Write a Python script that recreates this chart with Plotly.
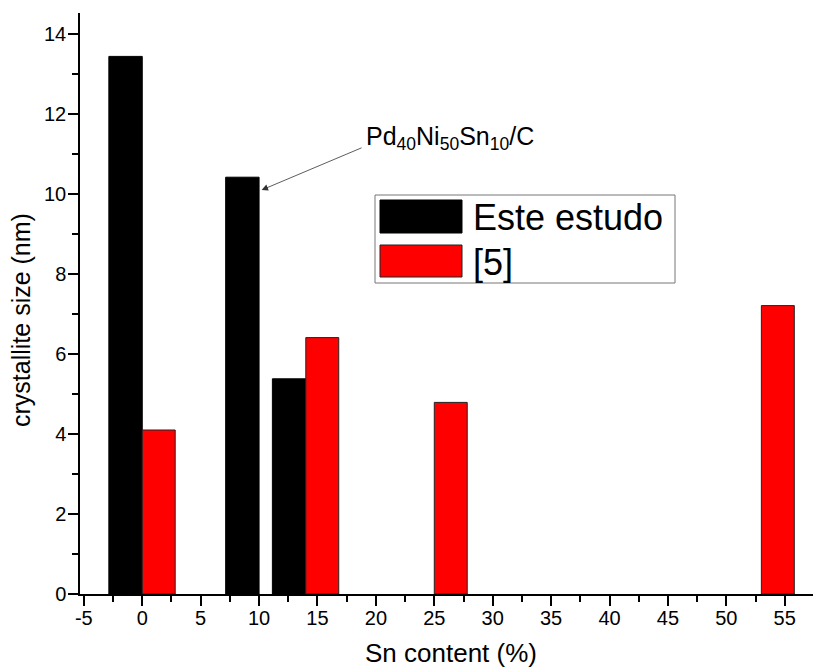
import plotly.graph_objects as go

# ---- data ----
este_x = [0, 10, 14]
este_y = [13.44, 10.42, 5.38]
ref_x = [0, 14, 25, 53]
ref_y = [4.10, 6.41, 4.79, 7.21]
x_ticks = [-5, 0, 5, 10, 15, 20, 25, 30, 35, 40, 45, 50, 55]
y_ticks = [0, 2, 4, 6, 8, 10, 12, 14]
series_names = ["Este estudo", "[5]"]

FONT = "Liberation Sans, Arial, sans-serif"
BW = 2.86

fig = go.Figure()
fig.add_trace(go.Bar(x=este_x, y=este_y, offset=-BW, width=BW, name=series_names[0],
                     marker=dict(color="black", line=dict(color="black", width=1)),
                     showlegend=False))
fig.add_trace(go.Bar(x=ref_x, y=ref_y, offset=0, width=2.82, name=series_names[1],
                     marker=dict(color="#ff0000", line=dict(color="#222222", width=1)),
                     showlegend=False))

# pixel -> paper helpers for the hand-drawn legend
L, R, T, B, W, H = 80, 0, 13, 74, 813, 668
pw, ph = W - L - R, H - T - B
def px(x):
    return (x - L) / pw
def py(y):
    return (H - B - y) / ph

shapes = [
    dict(type="rect", xref="paper", yref="paper", x0=px(375), x1=px(675), y0=py(283), y1=py(195),
         line=dict(color="#777777", width=1), fillcolor="white", layer="above"),
    dict(type="rect", xref="paper", yref="paper", x0=px(380), x1=px(462), y0=py(233), y1=py(200),
         line=dict(color="black", width=1), fillcolor="black", layer="above"),
    dict(type="rect", xref="paper", yref="paper", x0=px(380), x1=px(462), y0=py(277), y1=py(245),
         line=dict(color="#222222", width=1), fillcolor="#ff0000", layer="above"),
]

annotations = [
    dict(xref="paper", yref="paper", x=px(471), y=py(217), xanchor="left", yanchor="middle",
         text=series_names[0], showarrow=False, font=dict(family=FONT, size=36, color="black")),
    dict(xref="paper", yref="paper", x=px(471), y=py(262), xanchor="left", yanchor="middle",
         text=series_names[1], showarrow=False, font=dict(family=FONT, size=36, color="black")),
    # arrow
    dict(x=10.22, y=10.1, ax=18.9, ay=11.17, xref="x", yref="y", axref="x", ayref="y",
         text="", showarrow=True, arrowhead=2, arrowsize=1.6, arrowwidth=0.8, arrowcolor="#333333"),
    dict(x=19.0, y=11.4, xref="x", yref="y", xanchor="left", yanchor="middle",
         text="Pd<sub>40</sub>Ni<sub>50</sub>Sn<sub>10</sub>/C", showarrow=False,
         font=dict(family=FONT, size=25, color="black")),
    # y-axis title
    dict(xref="paper", yref="paper", x=px(21), y=py(320), xanchor="center", yanchor="middle",
         text="crystallite size (nm)", textangle=-90, showarrow=False,
         font=dict(family=FONT, size=25, color="black")),
    # x-axis title
    dict(xref="paper", yref="paper", x=px(451), y=py(653), xanchor="center", yanchor="middle",
         text="Sn content (%)", showarrow=False,
         font=dict(family=FONT, size=26, color="black")),
]

fig.update_layout(
    width=W, height=H,
    margin=dict(l=L, r=R, t=T, b=B, pad=0, autoexpand=False),
    plot_bgcolor="white", paper_bgcolor="white",
    barmode="overlay",
    shapes=shapes, annotations=annotations,
    font=dict(family=FONT, color="black"),
    xaxis=dict(range=[-5.33, 57.42], tickmode="array", tickvals=x_ticks,
               ticktext=[str(v) for v in x_ticks], automargin=False,
               ticks="outside", ticklen=10, tickwidth=1.5, tickcolor="black",
               ticklabelstandoff=-5,
               showline=True, linecolor="black", linewidth=1.5,
               showgrid=False, zeroline=False,
               tickfont=dict(family=FONT, size=20, color="black"),
               minor=dict(ticks="outside", ticklen=6, tickwidth=1.5, tickcolor="black",
                          tick0=2.5, dtick=5, showgrid=False)),
    yaxis=dict(range=[0, 14.525], tickmode="array", tickvals=y_ticks,
               ticktext=[str(v) for v in y_ticks], automargin=False,
               ticks="outside", ticklen=10, tickwidth=1.5, tickcolor="black",
               ticklabelstandoff=-2,
               showline=True, linecolor="black", linewidth=1.5,
               showgrid=False, zeroline=False,
               tickfont=dict(family=FONT, size=20, color="black"),
               minor=dict(ticks="outside", ticklen=6, tickwidth=1.5, tickcolor="black",
                          tick0=1, dtick=2, showgrid=False)),
)

fig.write_html("out.html", config={"displayModeBar": False},
               post_script="document.body.style.margin='0';document.body.style.padding='0';")
